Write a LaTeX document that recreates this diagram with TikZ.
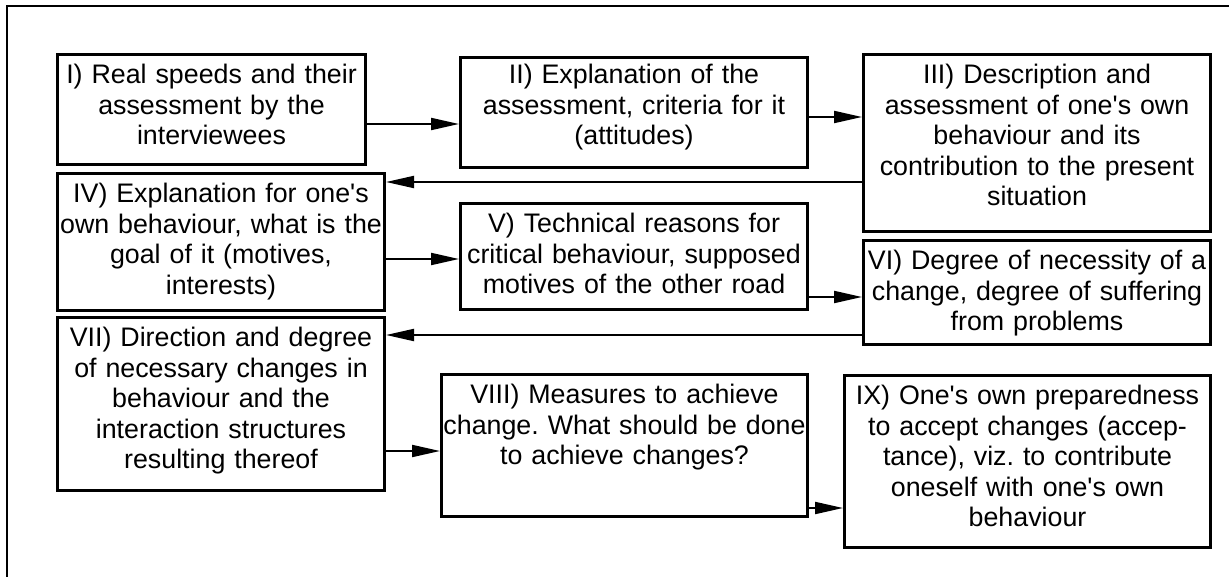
\documentclass[tikz,border=0pt]{standalone}
\usepackage{fontspec}
\setmainfont{Liberation Sans}
\usetikzlibrary{arrows.meta}
\newcommand\stagefont{\fontsize{13.4}{15.3}\selectfont\frenchspacing}
\newcommand\q{\textquotesingle}
\tikzset{
  stage/.style={draw, line width=1.5pt, inner sep=0pt, align=center,
    anchor=north west, text height=14.5pt, font=\stagefont},
  flow/.style={line width=1pt, -{Triangle[length=14pt,width=6pt]}}
}
\begin{document}
\begin{tikzpicture}[x=0.5pt, y=-0.5pt]
    \useasboundingbox (0,0) rectangle (1229,577);
    \draw[line width=1.4pt] (7,600) -- (7,6) -- (1250,6);
    % first row
    \node[stage, text width=154pt, text depth=40.5pt] (I) at (56,53)
        {I) Real speeds and their\\assessment by the\\interviewees};
    \node[stage, text width=173.5pt, text height=13pt, text depth=42pt] (II) at (459,56)
        {II) Explanation of the\\assessment, criteria for it\\(attitudes)};
    \node[stage, text width=173.5pt, text depth=74pt] (III) at (862,53)
        {III) Description and\\assessment of one\q s own\\behaviour and its\\contribution to the present\\situation};
    % second row
    \node[stage, text width=163.5pt, text depth=54pt] (IV) at (56,172)
        {IV) Explanation for one\q s\\own behaviour, what is the\\goal of it (motives,\\interests)};
    \node[stage, text width=173.5pt, text depth=38.5pt] (V) at (459,202)
        {V) Technical reasons for\\critical behaviour, supposed\\motives of the other road};
    \node[stage, text width=173.5pt, text depth=37.5pt] (VI) at (862,239)
        {VI) Degree of necessity of a\\change, degree of suffering\\from problems};
    % third row
    \node[stage, text width=163.5pt, text depth=72pt] (VII) at (56,316)
        {VII) Direction and degree\\of necessary changes in\\behaviour and the\\interaction structures\\resulting thereof};
    \node[stage, text width=183pt, text depth=56.5pt] (VIII) at (440,373)
        {VIII) Measures to achieve\\change. What should be done\\to achieve changes?};
    \node[stage, text width=183pt, text depth=71.5pt] (IX) at (843,374)
        {IX) One\q s own preparedness\\to accept changes (accep-\\tance), viz. to contribute\\oneself with one\q s own\\behaviour};
    % connectors
    \draw[flow] (I.east |- 0,124) -- (II.west |- 0,124);
    \draw[flow] (II.east |- 0,117) -- (III.west |- 0,117);
    \draw[flow] (III.west |- 0,182) -- (IV.east |- 0,182);
    \draw[flow] (IV.east |- 0,259) -- (V.west |- 0,259);
    \draw[flow] (V.east |- 0,297) -- (VI.west |- 0,297);
    \draw[flow] (VI.west |- 0,335) -- (VII.east |- 0,335);
    \draw[flow] (VII.east |- 0,451) -- (VIII.west |- 0,451);
    \draw[flow] (VIII.east |- 0,508) -- (IX.west |- 0,508);
\end{tikzpicture}
\end{document}
